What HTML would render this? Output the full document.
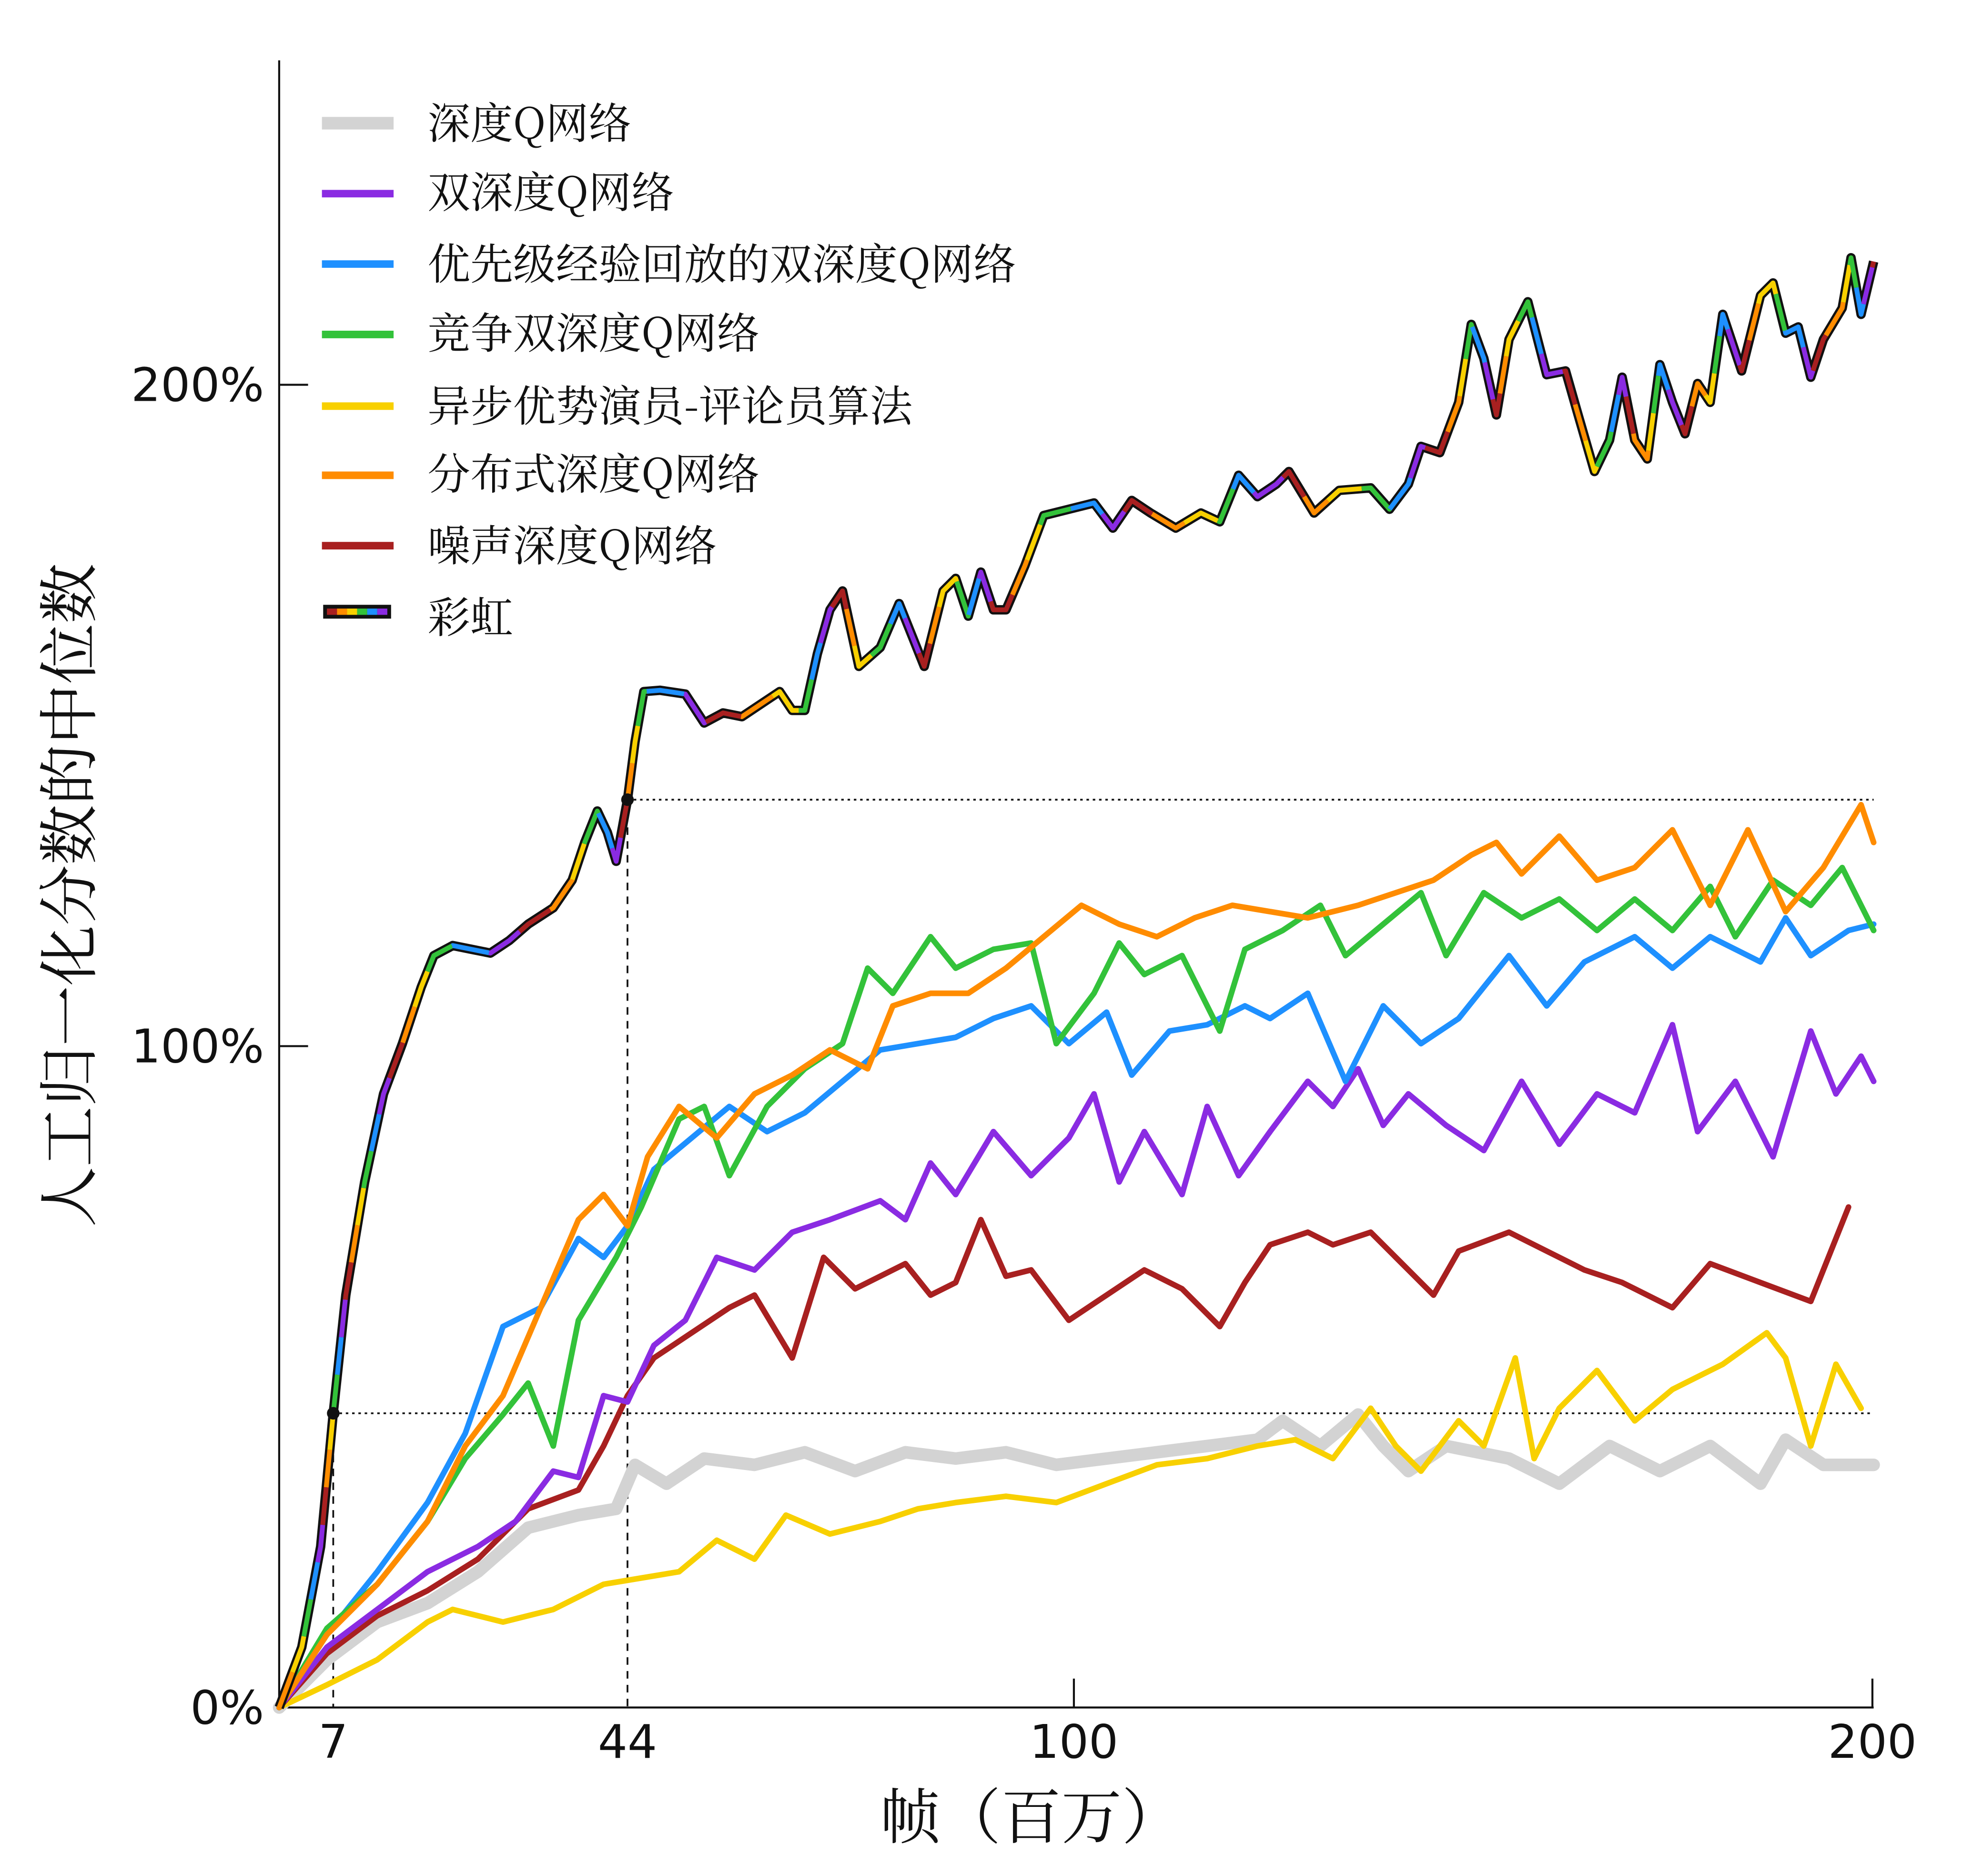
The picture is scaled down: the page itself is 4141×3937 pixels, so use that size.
<!DOCTYPE html>
<html><head><meta charset="utf-8"><style>
html,body{margin:0;padding:0;background:#fff}
svg{display:block}
text{font-family:"Liberation Sans","Noto Sans CJK SC",sans-serif;fill:#111}
.tk{font-family:"DejaVu Sans","Liberation Sans",sans-serif}
.cj{font-family:"Noto Serif CJK SC","Noto Sans CJK SC",serif}
</style></head><body>
<svg width="4141" height="3937" viewBox="0 0 1569 1492" preserveAspectRatio="none" xmlns="http://www.w3.org/2000/svg">
<rect width="1569" height="1492" fill="#fff"/>
<g stroke="#111" stroke-width="1.6" fill="none">
<line x1="222" y1="48" x2="222" y2="1358"/>
<line x1="222" y1="1358" x2="1490" y2="1358"/>
<line x1="222" y1="306" x2="245" y2="306"/>
<line x1="222" y1="832" x2="245" y2="832"/>
<line x1="854" y1="1358" x2="854" y2="1335"/>
<line x1="1489" y1="1358" x2="1489" y2="1335"/>
</g>
<g font-size="37" class="tk">
<text class="tk" x="210" y="319" text-anchor="end">200%</text>
<text class="tk" x="210" y="845" text-anchor="end">100%</text>
<text class="tk" x="210" y="1371" text-anchor="end">0%</text>
<text class="tk" x="265" y="1398" text-anchor="middle">7</text>
<text class="tk" x="499" y="1398" text-anchor="middle">44</text>
<text class="tk" x="854" y="1398" text-anchor="middle">100</text>
<text class="tk" x="1489" y="1398" text-anchor="middle">200</text>
</g>
<text class="cj" x="820" y="1462" font-size="48" text-anchor="middle">帧（百万）</text>
<text class="cj" transform="translate(72,712) rotate(-90)" font-size="48" text-anchor="middle">人工归一化分数的中位数</text>
<g stroke="#111" stroke-width="1.4" fill="none">
<line x1="499" y1="636" x2="1490" y2="636" stroke-dasharray="2 3"/>
<line x1="265" y1="1124" x2="1490" y2="1124" stroke-dasharray="2 3"/>
<line x1="265" y1="1124" x2="265" y2="1358" stroke-dasharray="6 5"/>
<line x1="499" y1="636" x2="499" y2="1358" stroke-dasharray="6 5"/>
</g>
<g fill="none" stroke-linejoin="round" stroke-linecap="round">
<polyline stroke="#d3d3d3" stroke-width="10" points="222,1358 260,1320 300,1290 340,1275 380,1250 420,1215 460,1205 490,1200 505,1165 530,1180 560,1160 600,1165 640,1155 680,1170 720,1155 760,1160 800,1155 840,1165 880,1160 920,1155 960,1150 1000,1145 1020,1130 1050,1150 1080,1125 1100,1150 1120,1170 1150,1150 1200,1160 1240,1180 1280,1150 1320,1170 1360,1150 1400,1180 1420,1145 1450,1165 1490,1165"/>
<polyline stroke="#f8d000" stroke-width="4.5" points="222,1358 260,1340 300,1320 340,1290 360,1280 400,1290 440,1280 480,1260 510,1255 540,1250 570,1225 600,1240 625,1205 660,1220 700,1210 730,1200 760,1195 800,1190 840,1195 880,1180 920,1165 960,1160 1000,1150 1030,1145 1060,1160 1090,1120 1110,1150 1130,1170 1160,1130 1180,1150 1205,1080 1220,1160 1240,1120 1270,1090 1300,1130 1330,1105 1370,1085 1405,1060 1420,1080 1440,1150 1460,1085 1480,1120"/>
<polyline stroke="#a82020" stroke-width="4.5" points="222,1358 260,1315 300,1285 340,1265 380,1240 420,1200 460,1185 480,1150 499,1110 520,1080 550,1060 580,1040 600,1030 630,1080 655,1000 680,1025 700,1015 720,1005 740,1030 760,1020 780,970 800,1015 820,1010 850,1050 880,1030 910,1010 940,1025 970,1055 990,1020 1010,990 1040,980 1060,990 1090,980 1110,1000 1140,1030 1160,995 1200,980 1230,995 1260,1010 1290,1020 1330,1040 1360,1005 1400,1020 1440,1035 1470,960"/>
<polyline stroke="#8a2be2" stroke-width="4.5" points="222,1358 260,1310 300,1280 340,1250 380,1230 410,1210 440,1170 460,1175 480,1110 499,1115 520,1070 545,1050 570,1000 600,1010 630,980 660,970 700,955 720,970 740,925 760,950 790,900 820,935 850,905 870,870 890,940 910,900 940,950 960,880 985,935 1010,900 1040,860 1060,880 1080,850 1100,895 1120,870 1150,895 1180,915 1210,860 1240,910 1270,870 1300,885 1330,815 1350,900 1380,860 1410,920 1440,820 1460,870 1480,840 1490,860"/>
<polyline stroke="#1e90ff" stroke-width="4.5" points="222,1358 260,1300 300,1250 340,1195 370,1140 400,1055 430,1040 460,985 480,1000 499,975 520,930 550,905 580,880 610,900 640,885 670,860 700,835 730,830 760,825 790,810 820,800 850,830 880,805 900,855 930,820 960,815 990,800 1010,810 1040,790 1070,860 1100,800 1130,830 1160,810 1200,760 1230,800 1260,765 1300,745 1330,770 1360,745 1400,765 1420,730 1440,760 1470,740 1490,735"/>
<polyline stroke="#33c23a" stroke-width="4.5" points="222,1358 260,1295 300,1260 340,1210 370,1160 400,1125 420,1100 440,1150 460,1050 490,1000 510,960 540,890 560,880 580,935 610,880 640,850 670,830 690,770 710,790 740,745 760,770 790,755 820,750 840,830 870,790 890,750 910,775 940,760 970,820 990,755 1020,740 1050,720 1070,760 1100,735 1130,710 1150,760 1180,710 1210,730 1240,715 1270,740 1300,715 1330,740 1360,705 1380,745 1410,700 1440,720 1465,690 1490,740"/>
<polyline stroke="#ff8c00" stroke-width="4.5" points="222,1358 260,1300 300,1260 340,1210 370,1150 400,1110 430,1040 460,970 480,950 499,975 515,920 540,880 570,905 600,870 630,855 660,835 690,850 710,800 740,790 770,790 800,770 830,745 860,720 890,735 920,745 950,730 980,720 1010,725 1040,730 1080,720 1110,710 1140,700 1170,680 1190,670 1210,695 1240,665 1270,700 1300,690 1330,660 1360,720 1390,660 1420,725 1450,690 1480,640 1490,670"/>
</g>
<defs>
<polyline id="rb" points="222,1358 240,1310 255,1230 265,1124 275,1030 290,940 305,870 320,830 335,785 345,760 360,752 375,755 390,758 405,748 420,735 440,722 455,700 465,670 475,645 483,662 490,685 499,636 505,590 512,550 525,549 545,552 560,575 575,567 590,570 605,560 620,550 630,565 640,565 650,520 660,485 670,470 683,530 700,515 715,480 725,505 735,530 750,470 760,460 770,490 780,455 790,485 800,485 815,450 830,410 850,405 870,400 885,420 900,398 915,408 935,420 955,408 970,415 985,378 1000,395 1015,385 1025,375 1045,408 1065,390 1090,388 1105,405 1120,385 1130,355 1145,360 1160,320 1170,258 1180,285 1190,330 1200,270 1215,240 1230,298 1245,295 1255,330 1268,375 1280,350 1290,300 1300,350 1310,365 1320,290 1330,320 1340,345 1350,305 1360,320 1370,250 1385,295 1400,235 1410,225 1420,265 1430,260 1440,300 1450,270 1465,245 1472,205 1480,250 1490,208"/>
</defs>
<g fill="none" stroke-linejoin="round">
<use href="#rb" stroke="#111" stroke-width="7.5"/>
<use href="#rb" stroke="#ff8c00" stroke-width="3.8" stroke-dasharray="30 150" stroke-dashoffset="0"/>
<use href="#rb" stroke="#f8d000" stroke-width="3.8" stroke-dasharray="30 150" stroke-dashoffset="-30"/>
<use href="#rb" stroke="#33c23a" stroke-width="3.8" stroke-dasharray="30 150" stroke-dashoffset="-60"/>
<use href="#rb" stroke="#1e90ff" stroke-width="3.8" stroke-dasharray="30 150" stroke-dashoffset="-90"/>
<use href="#rb" stroke="#8a2be2" stroke-width="3.8" stroke-dasharray="30 150" stroke-dashoffset="-120"/>
<use href="#rb" stroke="#a82020" stroke-width="3.8" stroke-dasharray="30 150" stroke-dashoffset="-150"/>
</g>
<circle cx="265" cy="1124" r="5" fill="#111"/>
<circle cx="499" cy="636" r="5" fill="#111"/>
<g stroke-width="6">
<line x1="256" y1="98" x2="313" y2="98" stroke="#d3d3d3" stroke-width="10"/>
<line x1="256" y1="154" x2="313" y2="154" stroke="#8a2be2"/>
<line x1="256" y1="210" x2="313" y2="210" stroke="#1e90ff"/>
<line x1="256" y1="266" x2="313" y2="266" stroke="#33c23a"/>
<line x1="256" y1="323" x2="313" y2="323" stroke="#f8d000"/>
<line x1="256" y1="378" x2="313" y2="378" stroke="#ff8c00"/>
<line x1="256" y1="434" x2="313" y2="434" stroke="#a82020"/>
</g>
<rect x="257" y="481" width="54" height="11" fill="#111"/>
<rect x="260" y="484" width="8" height="5" fill="#a82020"/>
<rect x="268" y="484" width="8" height="5" fill="#ff8c00"/>
<rect x="276" y="484" width="8" height="5" fill="#f8d000"/>
<rect x="284" y="484" width="8" height="5" fill="#33c23a"/>
<rect x="292" y="484" width="8" height="5" fill="#1e90ff"/>
<rect x="300" y="484" width="8" height="5" fill="#8a2be2"/>
<g font-size="34">
<text class="cj" x="340" y="110">深度Q网络</text>
<text class="cj" x="340" y="165">双深度Q网络</text>
<text class="cj" x="340" y="222">优先级经验回放的双深度Q网络</text>
<text class="cj" x="340" y="277">竞争双深度Q网络</text>
<text class="cj" x="340" y="335">异步优势演员-评论员算法</text>
<text class="cj" x="340" y="389">分布式深度Q网络</text>
<text class="cj" x="340" y="446">噪声深度Q网络</text>
<text class="cj" x="340" y="503">彩虹</text>
</g>
</svg>
</body></html>
